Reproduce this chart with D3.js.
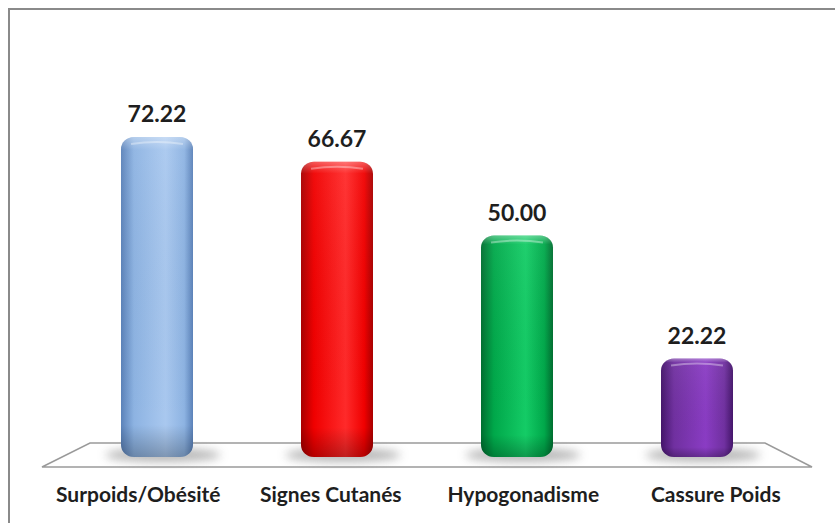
<!DOCTYPE html>
<html><head><meta charset="utf-8">
<script src="https://cdn.jsdelivr.net/npm/d3@7"></script>
<style>html,body{margin:0;padding:0;background:#fff;overflow:hidden}</style>
</head><body>
<svg id="c" width="835" height="523"></svg>
<script>
const categories = ["Surpoids/Obésité", "Signes Cutanés", "Hypogonadisme", "Cassure Poids"];
const values = [72.22, 66.67, 50.00, 22.22];
const valueLabels = ["72.22", "66.67", "50.00", "22.22"];
const colors = [
  {mid:"#a9c8ef", base:"#8db3e2", dark:"#5b82b9"},
  {mid:"#ff2a2a", base:"#f00000", dark:"#a80000"},
  {mid:"#14cc66", base:"#00a84a", dark:"#006e30"},
  {mid:"#8a3cc4", base:"#7030a0", dark:"#44156a"}
];

const svg = d3.select("#c");
const W = 835, H = 523;
const defs = svg.append("defs");

// frame (top and left visible)
svg.append("path").attr("d", `M9,${H} L9,9 L${W},9`)
  .attr("fill","none").attr("stroke","#8a8a8a").attr("stroke-width",2);

const x = d3.scaleBand().domain(categories).range([67, 787]).paddingInner(0.6).paddingOuter(0.3);
// front edge of the floor (labels follow the perspective)
const xFront = d3.scaleBand().domain(categories).range([42, 812]);
const y = d3.scaleLinear().domain([0, 80]).range([457, 102.6]);

// floor
const floorBackY = 443, floorFrontY = 467;
svg.append("path")
  .attr("d", `M90,${floorBackY} L765,${floorBackY} L812,${floorFrontY} L42,${floorFrontY} Z`)
  .attr("fill","#ffffff").attr("stroke","#9a9a9a").attr("stroke-width",1.5);

// shadow filter
const f = defs.append("filter").attr("id","blur").attr("x","-50%").attr("y","-50%").attr("width","200%").attr("height","200%");
f.append("feGaussianBlur").attr("stdDeviation",5);

// gradients
colors.forEach((c,i)=>{
  const g = defs.append("linearGradient").attr("id","g"+i).attr("x1","0").attr("x2","1").attr("y1","0").attr("y2","0");
  g.append("stop").attr("offset","0%").attr("stop-color",c.dark);
  g.append("stop").attr("offset","18%").attr("stop-color",c.base);
  g.append("stop").attr("offset","62%").attr("stop-color",c.mid);
  g.append("stop").attr("offset","88%").attr("stop-color",c.base);
  g.append("stop").attr("offset","100%").attr("stop-color",c.dark);
  const v = defs.append("linearGradient").attr("id","v"+i).attr("x1","0").attr("x2","0").attr("y1","0").attr("y2","1");
  v.append("stop").attr("offset","0%").attr("stop-color","#fff").attr("stop-opacity",0.35);
  v.append("stop").attr("offset","4%").attr("stop-color","#fff").attr("stop-opacity",0.05);
  v.append("stop").attr("offset","90%").attr("stop-color","#000").attr("stop-opacity",0);
  v.append("stop").attr("offset","100%").attr("stop-color","#000").attr("stop-opacity",0.25);
});

const bw = x.bandwidth();
const g = svg.append("g");
const bars = g.selectAll("g.bar").data(categories).join("g").attr("class","bar");

// shadows
bars.append("ellipse")
  .attr("cx", d => x(d) + bw/2 + 6)
  .attr("cy", y(0) - 2)
  .attr("rx", bw*0.8).attr("ry", 7)
  .attr("fill","#9a9a9a").attr("opacity",0.7).attr("filter","url(#blur)");

bars.append("rect")
  .attr("x", d => x(d)).attr("width", bw)
  .attr("y", (d,i) => y(values[i]))
  .attr("height", (d,i) => y(0) - y(values[i]))
  .attr("rx", 13).attr("ry", 12)
  .attr("fill", (d,i) => `url(#g${i})`);
bars.append("rect")
  .attr("x", d => x(d)).attr("width", bw)
  .attr("y", (d,i) => y(values[i]))
  .attr("height", (d,i) => y(0) - y(values[i]))
  .attr("rx", 13).attr("ry", 12)
  .attr("fill", (d,i) => `url(#v${i})`);
// top highlight
bars.append("path")
  .attr("d", (d,i) => {
    const x0 = x(d)+10, x1 = x(d)+bw-10, yy = y(values[i]) + 7;
    return `M${x0},${yy} Q${x(d)+bw/2},${yy-4} ${x1},${yy}`;
  })
  .attr("fill","none").attr("stroke","#fff").attr("stroke-opacity",0.35).attr("stroke-width",2);

// value labels
bars.append("text")
  .attr("x", d => x(d) + bw/2)
  .attr("y", (d,i) => y(values[i]) - 15)
  .attr("text-anchor","middle")
  .attr("font-family","Lato, 'Open Sans', sans-serif")
  .attr("font-weight","bold").attr("font-size", 23)
  .attr("fill","#1e1e1e")
  .text((d,i) => valueLabels[i]);

// category labels
const xAxis = d3.axisBottom(xFront).tickSize(0).tickPadding(0);
const ax = svg.append("g").attr("transform","translate(0,502)").call(xAxis);
ax.select(".domain").remove();
ax.selectAll("text")
  .attr("font-family","Lato, 'Open Sans', sans-serif")
  .attr("font-weight","bold").attr("font-size", 21)
  .attr("fill","#1e1e1e").attr("dy","0").attr("y",0);
</script>
</body></html>
